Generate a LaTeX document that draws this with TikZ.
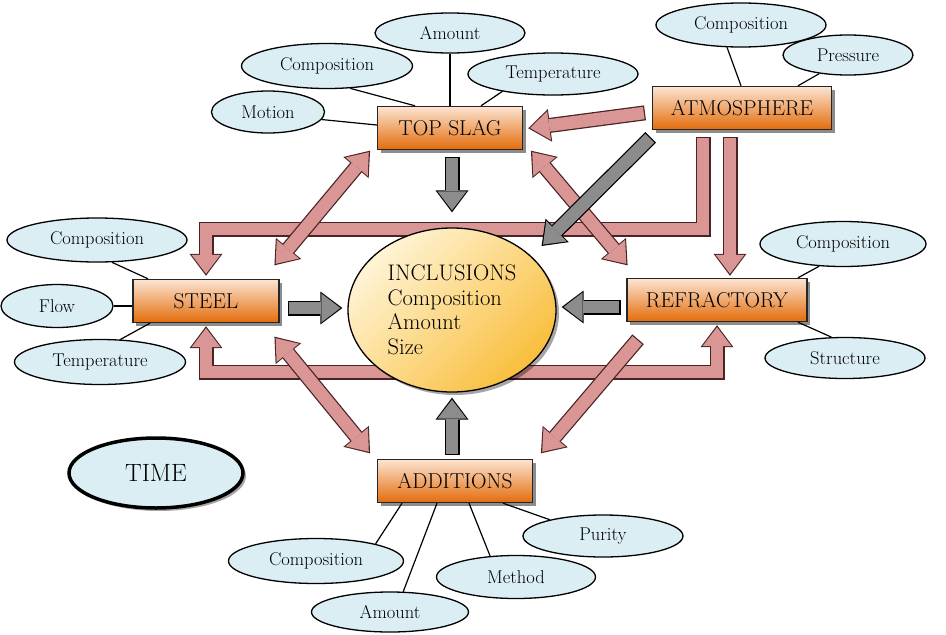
\documentclass[tikz,border=0pt]{standalone}
\usetikzlibrary{shapes, arrows.meta, shadows, calc}
\definecolor{ovalfill}{HTML}{DAEEF3}
\definecolor{boxtop}{HTML}{FCE4D2}
\definecolor{boxbot}{HTML}{E36C0A}
\definecolor{pinkfill}{HTML}{D99694}
\definecolor{pinkedge}{HTML}{4A2424}
\definecolor{greyfill}{HTML}{8C8C8C}
\definecolor{incltop}{HTML}{FFF4D6}
\definecolor{inclbot}{HTML}{F9BE3C}

\begin{document}
\begin{tikzpicture}[x=1pt, y=-1pt, line width=1.2pt,
  box/.style={draw=black!85, line width=1.4pt, top color=boxtop, bottom color=boxbot, minimum height=43pt, inner sep=0pt, font=\fontsize{21.5}{24}\selectfont, drop shadow={shadow xshift=3pt, shadow yshift=-3pt, fill=black, opacity=.45}},
  oval/.style={ellipse, draw, line width=1.3pt, fill=ovalfill, inner sep=0pt, font=\fontsize{18.5}{20}\selectfont},
  pinkarrow/.style={draw=pinkfill, line width=12.5pt, line join=miter, -{Triangle[length=19pt,width=29pt,line width=0pt]}, preaction={draw=pinkedge, line width=15pt, line join=miter, -{Triangle[length=22pt,width=33pt,line width=0pt]}, shorten >=-2pt, shorten <=-1.2pt}},
  pinkboth/.style={draw=pinkfill, line width=12.5pt, line join=miter, {Triangle[length=19pt,width=29pt,line width=0pt]}-{Triangle[length=19pt,width=29pt,line width=0pt]}, preaction={draw=pinkedge, line width=15pt, line join=miter, {Triangle[length=22pt,width=33pt,line width=0pt]}-{Triangle[length=22pt,width=33pt,line width=0pt]}, shorten >=-2pt, shorten <=-2pt}},
  greyarrow/.style={draw=greyfill, line width=12.5pt, -{Triangle[length=19pt,width=29pt,line width=0pt]}, preaction={draw=black, line width=15pt, -{Triangle[length=22pt,width=33pt,line width=0pt]}, shorten >=-2pt, shorten <=-1.2pt}}]
  \useasboundingbox (0,0) rectangle (946,635);

  % factors
  \node[box, minimum width=145pt] (topslag) at (450,128) {TOP SLAG};
  \node[box, minimum width=179pt] (atmo) at (742,108) {ATMOSPHERE};
  \node[box, minimum width=146pt] (steel) at (206,301) {STEEL};
  \node[box, minimum width=180pt] (refr) at (717,300) {REFRACTORY};
  \node[box, minimum width=155pt] (add) at (455,481) {ADDITIONS};

  % properties
  \node[oval, minimum width=150pt, minimum height=40pt] (tsAmount) at (450,33) {Amount};
  \node[oval, minimum width=171pt, minimum height=45pt] (tsComp) at (327,66) {Composition};
  \node[oval, minimum width=170pt, minimum height=42pt] (tsTemp) at (553,74) {Temperature};
  \node[oval, minimum width=113pt, minimum height=42pt] (tsMotion) at (268,112) {Motion};
  \node[oval, minimum width=170pt, minimum height=44pt] (atComp) at (741,25) {Composition};
  \node[oval, minimum width=130pt, minimum height=40pt] (atPress) at (848,55) {Pressure};
  \node[oval, minimum width=180pt, minimum height=44pt] (stComp) at (97,240) {Composition};
  \node[oval, minimum width=112pt, minimum height=43pt] (stFlow) at (57,306) {Flow};
  \node[oval, minimum width=171pt, minimum height=45pt] (stTemp) at (100,362) {Temperature};
  \node[oval, minimum width=166pt, minimum height=45pt] (rfComp) at (843,244) {Composition};
  \node[oval, minimum width=160pt, minimum height=41pt] (rfStruct) at (845,358) {Structure};
  \node[oval, minimum width=175pt, minimum height=45pt] (adComp) at (316,561) {Composition};
  \node[oval, minimum width=157pt, minimum height=40pt] (adAmount) at (390,612) {Amount};
  \node[oval, minimum width=159pt, minimum height=43pt] (adMethod) at (516,577) {Method};
  \node[oval, minimum width=160pt, minimum height=42pt] (adPurity) at (603,536) {Purity};

  \node[ellipse, draw, line width=3.5pt, fill=ovalfill, minimum width=174pt, minimum height=70pt, font=\fontsize{25}{28}\selectfont, drop shadow={shadow xshift=3pt, shadow yshift=-3pt, fill=black, opacity=.35}] (time) at (156,473) {TIME};

  \draw (tsMotion.-8) -- ([yshift=3pt]topslag.west);
  \draw (tsComp.-44) -- ([xshift=-35pt]topslag.north);
  \draw (tsAmount.south) -- (topslag.north);
  \draw (tsTemp.199) -- ([xshift=31pt]topslag.north);
  \draw (atComp.238) -- ([xshift=-1pt]atmo.north);
  \draw (atPress.213) -- ([xshift=56pt]atmo.north);
  \draw (stComp.-56) -- ([xshift=-58pt]steel.north);
  \draw (stFlow.east) -- (stFlow.east -| steel.west);
  \draw (stTemp.48) -- ([xshift=-56pt]steel.south);
  \draw (rfComp.223) -- ([xshift=81pt]refr.north);
  \draw (rfStruct.123) -- ([xshift=81pt]refr.south);
  \draw (adComp.16) -- ([xshift=-53pt]add.south);
  \draw (adAmount.57) -- ([xshift=-18pt]add.south);
  \draw (adMethod.141) -- ([xshift=14pt]add.south);
  \draw (adPurity.163) -- ([xshift=48pt]add.south);

  % loops behind the inclusions
  \coordinate (bendT) at (206,229);
  \coordinate (bendB) at (206,372);
  \draw[pinkarrow] ([xshift=-39pt,yshift=-8pt]atmo.south) |- (bendT) -- ([yshift=5pt]steel.north);
  \draw[pinkboth] ([yshift=-5pt]steel.south) -- (bendB) -| ([yshift=-5pt]refr.south);

  \node[ellipse, draw, line width=1.3pt, top color=incltop, bottom color=inclbot, shading angle=45, minimum width=208pt, minimum height=164pt, align=left, font=\fontsize{22.5}{24.5}\selectfont, drop shadow={shadow xshift=3pt, shadow yshift=-3pt, fill=black, opacity=.35}] (incl) at (452,310) {INCLUSIONS\\Composition\\Amount\\Size};

  \draw[pinkarrow] ([xshift=-12pt,yshift=-8pt]atmo.south) -- ([xshift=13pt,yshift=4pt]refr.north);
  \draw[pinkarrow] ([xshift=-8pt,yshift=-5pt]atmo.west) -- ([xshift=7pt]topslag.east);
  \draw[pinkboth] ([xshift=-4pt,yshift=15pt]steel.north east) -- ([xshift=-8pt,yshift=-2pt]topslag.south west);
  \draw[pinkboth] ([xshift=9pt,yshift=-2pt]topslag.south east) -- ([yshift=14pt]refr.north west);
  \draw[pinkboth] ([xshift=-4pt,yshift=-15pt]steel.south east) -- ([xshift=-8pt,yshift=7pt]add.north west);
  \draw[pinkarrow] ([xshift=11pt,yshift=-18pt]refr.south west) -- ([xshift=9pt,yshift=7pt]add.north east);

  \draw[greyarrow] ([xshift=-2pt,yshift=-8pt]atmo.south west) -- ([xshift=17pt,yshift=7pt]incl.north east);
  \draw[greyarrow] ([xshift=2pt,yshift=-8pt]topslag.south) -- ([yshift=17pt]incl.north);
  \draw[greyarrow] ([xshift=9pt,yshift=-7pt]steel.east) -- ([xshift=-7pt,yshift=2pt]incl.west);
  \draw[greyarrow] ([xshift=-7pt,yshift=-7pt]refr.west) -- ([xshift=7pt,yshift=3pt]incl.east);
  \draw[greyarrow] ([xshift=-3pt,yshift=5pt]add.north) -- ([yshift=-7pt]incl.south);
\end{tikzpicture}
\end{document}
